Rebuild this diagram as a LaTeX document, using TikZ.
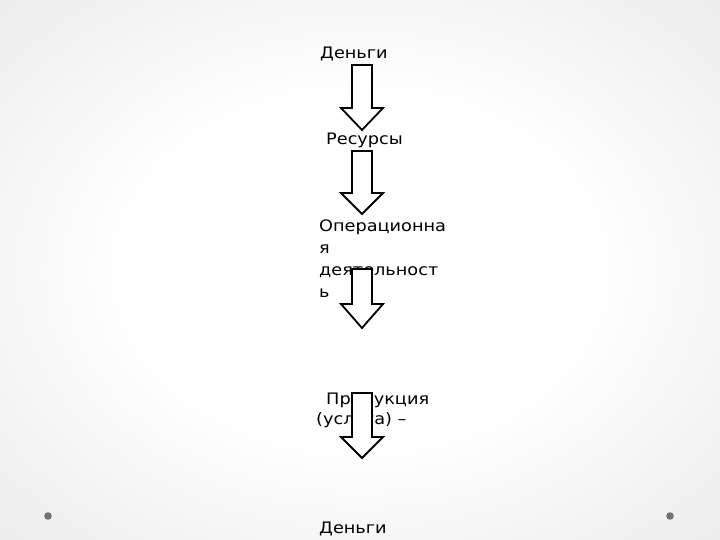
\documentclass[tikz,border=0pt]{standalone}
\usepackage{fontspec}
\setmainfont{DejaVu Sans}[FakeStretch=1.12]
\begin{document}
\begin{tikzpicture}[x=1pt,y=-1pt,
  lbl/.style={anchor=base west,inner sep=0pt,font=\fontsize{15.8}{21}\selectfont,text=black},
  blockarrow/.style={draw=black,line width=1.8pt,fill=white,line join=miter},
  dot/.style={fill=black!55,draw=none}]
\pgfdeclareradialshading{bgshade}{\pgfpoint{0bp}{0bp}}{color(0bp)=(white);color(16bp)=(white);color(40bp)=(black!9);color(50bp)=(black!12);color(71bp)=(black!16)}
\useasboundingbox (0,0) rectangle (720,540);
\shade[shading=bgshade] (0,0) rectangle (720,540);
% labels
\node[lbl] (m1) at (320,59) {Деньги};
\node[lbl] (r) at (326,145) {Ресурсы};
\node[lbl] (o1) at (319,232) {Операционна};
\node[lbl] (o2) at (319,253) {я};
\node[lbl] (o3) at (319,275) {деятельност};
\node[lbl] (o4) at (319,297) {ь};
\node[lbl] (p1) at (326,404) {Продукция};
\node[lbl] (p2) at (316,424) {(услуга) –};
\node[lbl] (m2) at (319,533) {Деньги};
% block arrows (drawn over the text)
\newcommand{\barrow}[3]{% top, headbase, tip
  \draw[blockarrow] (352,#1) -- (372,#1) -- (372,#2) -- (383,#2) -- (362,#3) -- (341,#2) -- (352,#2) -- cycle;}
\barrow{65}{108}{130}
\barrow{151}{193}{214}
\barrow{269}{304}{328}
\barrow{393}{437}{458}
% decorative dots
\fill[dot] (48,516) circle (3.8);
\fill[dot] (670,516) circle (3.8);
\end{tikzpicture}
\end{document}
